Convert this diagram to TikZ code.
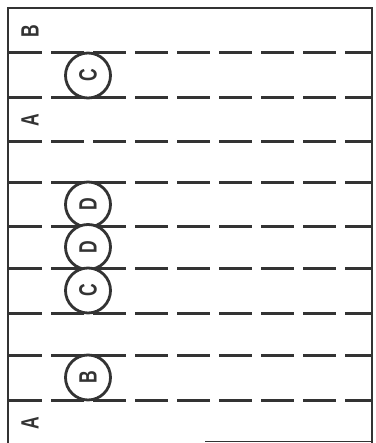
\documentclass[tikz,border=0pt]{standalone}
\usepackage{graphicx}
\usepackage{fontspec}
\setmainfont{Liberation Sans}
\newcommand{\narrowletter}[1]{\scalebox{0.7}[1]{#1}}
\begin{document}
\begin{tikzpicture}[x=1pt,y=-1pt,
  ink/.style={color=black!80},
  frameline/.style={ink, line width=2pt},
  dashline/.style={ink, line width=3pt, dash pattern=on 33pt off 9pt},
  letter/.style={ink, rotate=90, inner sep=0pt, font=\bfseries\fontsize{25}{25}\selectfont},
  ring/.style={ink, draw, circle, line width=2.8pt, minimum size=45pt, inner sep=0pt, fill=white, rotate=90, font=\bfseries\fontsize{25}{25}\selectfont}]
\useasboundingbox (0,0) rectangle (375,443);
% frame
\draw[frameline] (8,443) -- (8,8) -- (372,8) -- (372,443);
\draw[ink, line width=1pt] (205,441.5) -- (372,441.5);
% dashed lines
\foreach \yy in {53,98,142,183,226,268,313,355,400}
  \draw[dashline] (9,\yy) -- (371,\yy);
% circles
\node[ring] (c1) at (88,75.5) {\narrowletter{C}};
\node[ring] (d1) at (88,204.5) {\narrowletter{D}};
\node[ring] (d2) at (88,247) {\narrowletter{D}};
\node[ring] (c2) at (88,290.5) {\narrowletter{C}};
\node[ring] (b1) at (88,377.5) {\narrowletter{B}};
% side labels
\node[letter] (lb) at (30,31) {\narrowletter{B}};
\node[letter] (la1) at (30,120) {\narrowletter{A}};
\node[letter] (la2) at (30,423) {\narrowletter{A}};
\end{tikzpicture}
\end{document}
